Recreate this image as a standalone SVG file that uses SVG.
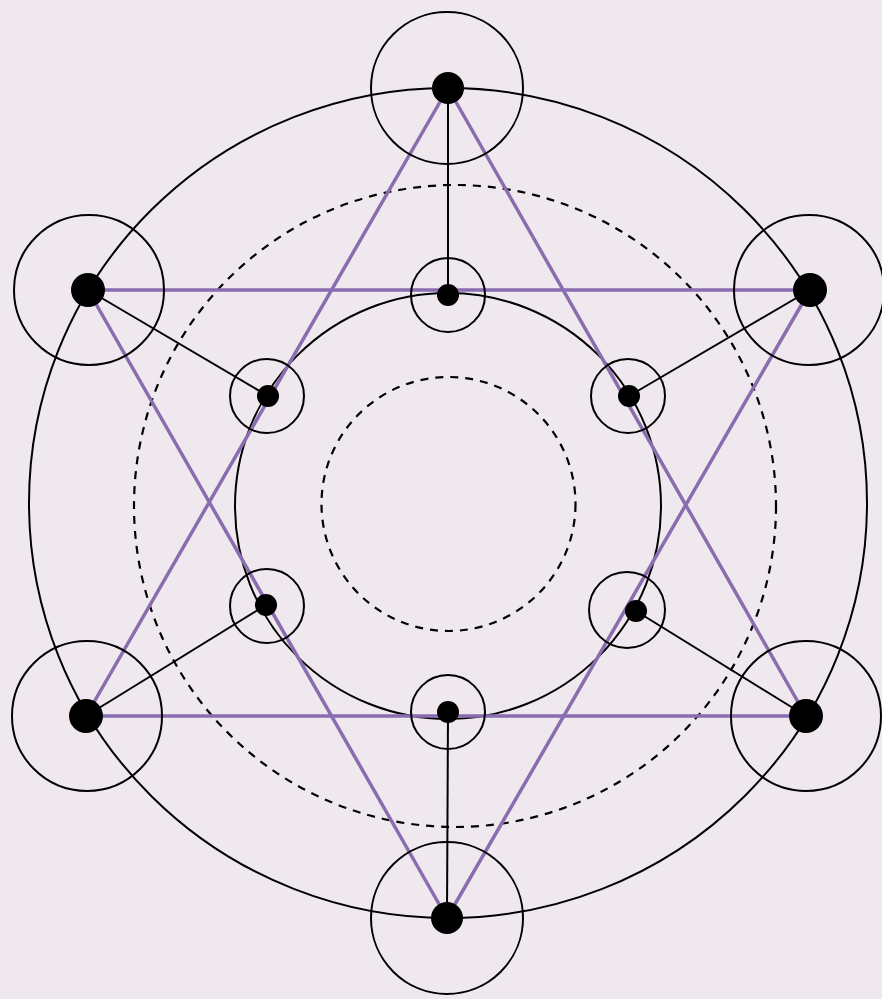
<svg xmlns="http://www.w3.org/2000/svg" width="882" height="999" viewBox="0 0 882 999">
<style>
.ring{fill:none;stroke:#000;stroke-width:2}
.dash{fill:none;stroke:#000;stroke-width:2.2;stroke-dasharray:8 7}
.spoke{stroke:#000;stroke-width:2}
.tri{fill:none;stroke:#8a6cb0;stroke-width:3.5;stroke-linejoin:round}
.dot{fill:#000}
</style>
<rect width="882" height="999" fill="#efe9ef"/>
<g id="orbits">
<ellipse class="ring" cx="448" cy="503" rx="419" ry="415"/>
<circle class="dash" cx="455" cy="506" r="321"/>
<circle class="ring" cx="448" cy="506" r="213"/>
<circle class="dash" cx="448.5" cy="504" r="127"/>
</g>
<g id="connectors">
<line class="spoke" x1="448" y1="88" x2="448" y2="295"/>
<line class="spoke" x1="88" y1="290" x2="268" y2="396"/>
<line class="spoke" x1="810" y1="290" x2="629" y2="396"/>
<line class="spoke" x1="86" y1="716" x2="266" y2="605"/>
<line class="spoke" x1="806" y1="716" x2="636" y2="611"/>
<line class="spoke" x1="447" y1="918" x2="448" y2="712"/>
<polygon class="tri" points="448,88 86,716 806,716"/>
<polygon class="tri" points="88,290 810,290 447,918"/>
</g>
<g id="n-top"><circle class="ring" cx="447" cy="88" r="76"/><circle class="dot" cx="448" cy="88" r="16"/></g>
<g id="n-upper-left"><circle class="ring" cx="89" cy="290" r="75"/><circle class="dot" cx="88" cy="290" r="17"/></g>
<g id="n-upper-right"><circle class="ring" cx="809" cy="290" r="75"/><circle class="dot" cx="810" cy="290" r="17"/></g>
<g id="n-lower-left"><circle class="ring" cx="87" cy="716" r="75"/><circle class="dot" cx="86" cy="716" r="17"/></g>
<g id="n-lower-right"><circle class="ring" cx="806" cy="716" r="75"/><circle class="dot" cx="806" cy="716" r="17"/></g>
<g id="n-bottom"><circle class="ring" cx="447" cy="918" r="76"/><circle class="dot" cx="447" cy="918" r="16"/></g>
<g id="i-top"><circle class="ring" cx="448" cy="295" r="37"/><circle class="dot" cx="448" cy="295" r="11"/></g>
<g id="i-upper-left"><circle class="ring" cx="267" cy="396" r="37"/><circle class="dot" cx="268" cy="396" r="11"/></g>
<g id="i-upper-right"><circle class="ring" cx="628" cy="396" r="37"/><circle class="dot" cx="629" cy="396" r="11"/></g>
<g id="i-lower-left"><circle class="ring" cx="267" cy="606" r="37"/><circle class="dot" cx="266" cy="605" r="11"/></g>
<g id="i-lower-right"><circle class="ring" cx="627" cy="610" r="38"/><circle class="dot" cx="636" cy="611" r="11"/></g>
<g id="i-bottom"><circle class="ring" cx="448" cy="712" r="37"/><circle class="dot" cx="448" cy="712" r="11"/></g>
</svg>
